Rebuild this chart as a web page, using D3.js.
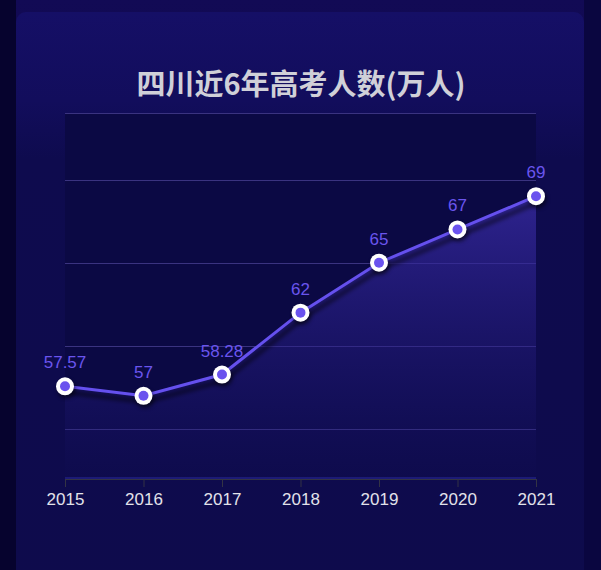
<!DOCTYPE html>
<html><head><meta charset="utf-8">
<script src="https://cdn.jsdelivr.net/npm/d3@7/dist/d3.min.js"></script>
<style>
html,body{margin:0;padding:0;background:#080537;}
svg{display:block;}
</style></head>
<body>
<svg id="chart" width="601" height="570"></svg>
<script>
const title = "四川近6年高考人数(万人)";
const years = ["2015","2016","2017","2018","2019","2020","2021"];
const values = [57.57, 57, 58.28, 62, 65, 67, 69];
const valueLabels = ["57.57","57","58.28","62","65","67","69"];
const gridValues = [55, 60, 65, 70, 74];
const yDomain = [52, 74];

const svg = d3.select("#chart");
const W = 601, H = 570;
const defs = svg.append("defs");

const bgG = defs.append("linearGradient").attr("id","bg").attr("x1",0).attr("y1",0).attr("x2",0).attr("y2",1);
bgG.append("stop").attr("offset","0%").attr("stop-color","#120a55");
bgG.append("stop").attr("offset","100%").attr("stop-color","#080538");

const cardG = defs.append("linearGradient").attr("id","card").attr("x1",0).attr("y1",0).attr("x2",0).attr("y2",1);
cardG.append("stop").attr("offset","0%").attr("stop-color","#150f66");
cardG.append("stop").attr("offset","15%").attr("stop-color","#120d5c");
cardG.append("stop").attr("offset","25%").attr("stop-color","#0e0b4e");
cardG.append("stop").attr("offset","100%").attr("stop-color","#0e0b4c");

const areaG = defs.append("linearGradient").attr("id","areaG").attr("x1",0).attr("y1",0).attr("x2",0).attr("y2",1);
areaG.append("stop").attr("offset","0%").attr("stop-color","#3a2ca8").attr("stop-opacity",0.75);
areaG.append("stop").attr("offset","100%").attr("stop-color","#1a1470").attr("stop-opacity",0.2);

const blur = defs.append("filter").attr("id","shadow").attr("x","-20%").attr("y","-20%").attr("width","140%").attr("height","140%");
blur.append("feGaussianBlur").attr("stdDeviation",2);

// background
svg.append("rect").attr("width",W).attr("height",H).attr("fill","url(#bg)");
svg.append("rect").attr("x",0).attr("y",0).attr("width",16).attr("height",H).attr("fill","#06032e");
svg.append("rect").attr("x",584).attr("y",0).attr("width",17).attr("height",H).attr("fill","#0a0640");
svg.append("rect").attr("x",16).attr("y",12).attr("width",568).attr("height",H+20).attr("rx",10).attr("fill","url(#card)");

svg.append("text").attr("x",301).attr("y",95).attr("text-anchor","middle")
  .attr("font-family","'Noto Sans CJK SC', sans-serif").attr("font-weight",700)
  .attr("font-size",29).attr("fill","#d0d0d8").text(title);

const x = d3.scalePoint().domain(years).range([65, 536]);
const y = d3.scaleLinear().domain(yDomain).range([479, 113]);

// plot bg
svg.append("rect").attr("x",65).attr("y",y(yDomain[1])).attr("width",471).attr("height",y(yDomain[0])-y(yDomain[1])).attr("fill","#0b0944");

// grid
svg.append("g").selectAll("line").data(gridValues).join("line")
  .attr("x1",65).attr("x2",536).attr("y1",d=>Math.round(y(d))+0.5).attr("y2",d=>Math.round(y(d))+0.5)
  .attr("stroke","#3a3380").attr("stroke-width",1);

const pts = years.map((yr,i)=>({yr, v:values[i], label:valueLabels[i]}));

// area
const area = d3.area().x(d=>x(d.yr)).y0(y(yDomain[0])).y1(d=>y(d.v));
svg.append("path").datum(pts).attr("d",area).attr("fill","url(#areaG)");

// shadow line
const line = d3.line().x(d=>x(d.yr)).y(d=>y(d.v));
svg.append("path").datum(pts).attr("d",line).attr("fill","none")
  .attr("stroke","#000").attr("stroke-opacity",0.55).attr("stroke-width",4)
  .attr("transform","translate(2,6)").attr("filter","url(#shadow)");
svg.append("path").datum(pts).attr("d",line).attr("fill","none")
  .attr("stroke","#6550ee").attr("stroke-width",3);

// axis
const axis = d3.axisBottom(x).tickSizeOuter(0).tickSizeInner(8).tickPadding(6);
const ag = svg.append("g").attr("transform",`translate(0,${y(yDomain[0])})`).call(axis);
ag.select(".domain").attr("stroke","#333344");
ag.selectAll(".tick line").attr("stroke","#333344");
ag.selectAll(".tick text").attr("fill","#e2e2ea").attr("font-size",17)
  .attr("font-family","'Liberation Sans', Arial, sans-serif");
svg.append("line").attr("x1",65).attr("x2",536).attr("y1",y(yDomain[0])-1).attr("y2",y(yDomain[0])-1)
  .attr("stroke","#2a2aa0").attr("stroke-width",1);

// points
const pg = svg.append("g").selectAll("g").data(pts).join("g")
  .attr("transform",d=>`translate(${x(d.yr)},${y(d.v)})`);
pg.append("circle").attr("r",9).attr("cx",1.5).attr("cy",3).attr("fill","#000").attr("opacity",0.55).attr("filter","url(#shadow)");
pg.append("circle").attr("r",9).attr("fill","#ffffff");
pg.append("circle").attr("r",5).attr("fill","#6a52ee");
pg.append("text").attr("y",-18).attr("text-anchor","middle")
  .attr("font-family","'Liberation Sans', Arial, sans-serif").attr("font-size",17)
  .attr("fill","#6a55ee").text(d=>d.label);
</script>
</body></html>
